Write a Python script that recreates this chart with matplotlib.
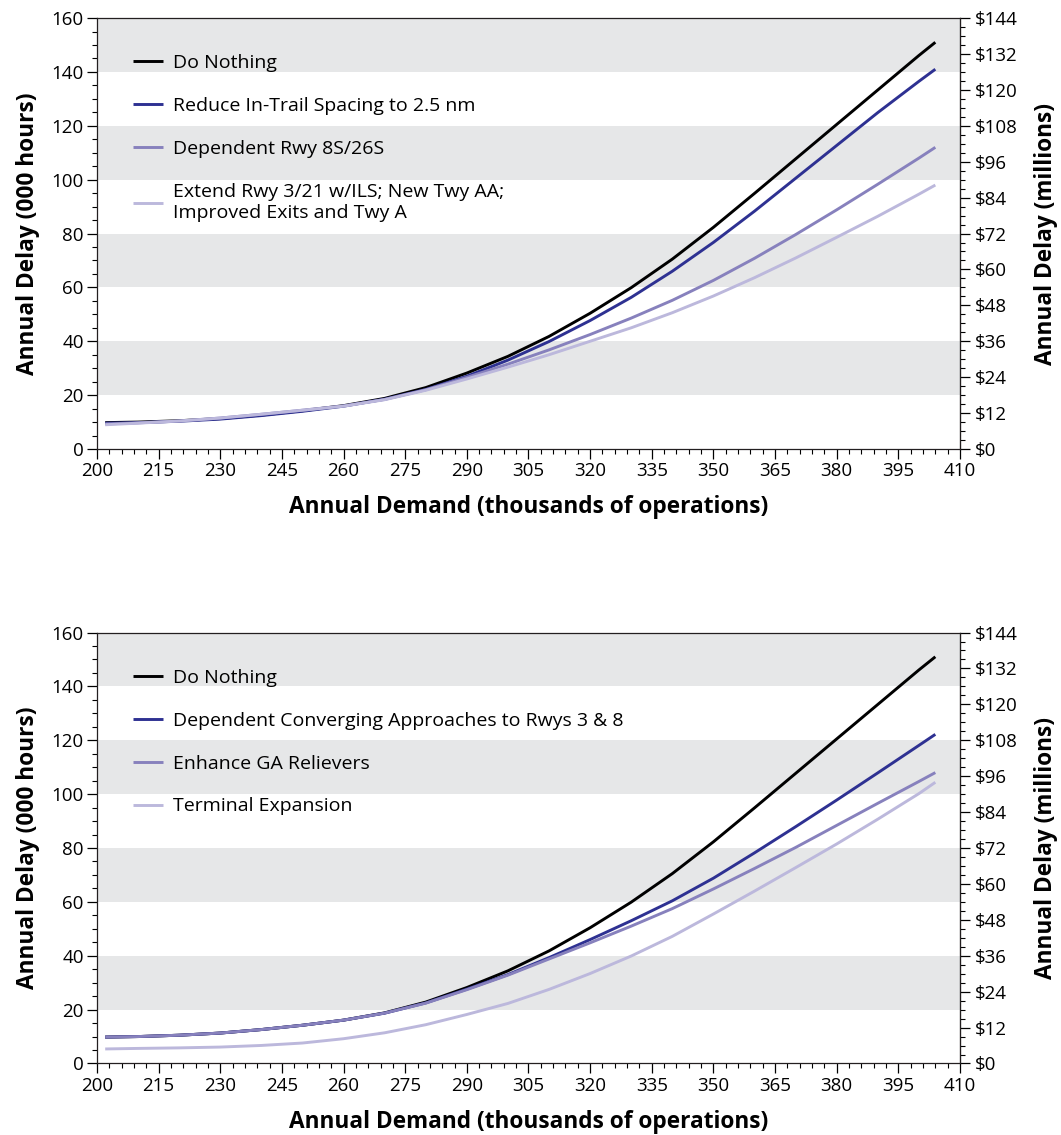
import matplotlib
matplotlib.use('Agg')
import matplotlib.pyplot as plt
from matplotlib.ticker import FixedLocator, FuncFormatter, MultipleLocator

plt.rcParams['font.family'] = ['Open Sans', 'DejaVu Sans']

# annual demand (thousands of operations) and annual delay (000 hours)
demand = [202, 210, 220, 230, 240, 250, 260, 270, 280, 290, 300,
          310, 320, 330, 340, 350, 360, 370, 380, 390, 400, 404]

do_nothing = [9.8, 10.0, 10.5, 11.3, 12.6, 14.2, 16.1, 18.8, 22.8, 28.2, 34.4,
              41.8, 50.4, 59.9, 70.5, 82.3, 94.9, 107.7, 120.5, 133.3, 146.1, 151.0]

# top panel
reduce_spacing = [9.6, 9.8, 10.3, 11.1, 12.4, 14.0, 15.9, 18.5, 22.1, 27.0, 33.0,
                  39.9, 47.7, 56.3, 66.0, 76.7, 88.3, 100.5, 112.7, 124.9, 136.5, 141.0]
dependent_rwy = [9.3, 9.7, 10.4, 11.5, 12.9, 14.4, 16.0, 18.4, 22.0, 26.6, 31.5,
                 36.8, 42.5, 48.6, 55.2, 62.6, 70.8, 79.6, 88.8, 98.3, 108.0, 112.0]
extend_rwy = [9.0, 9.6, 10.4, 11.5, 12.9, 14.4, 15.9, 18.3, 21.8, 26.0, 30.4,
              35.0, 40.0, 45.0, 50.6, 56.8, 63.6, 70.9, 78.6, 86.4, 94.6, 98.0]

# bottom panel
converging = [9.8, 10.0, 10.5, 11.3, 12.6, 14.2, 16.1, 18.7, 22.5, 27.6, 33.0,
              39.3, 46.0, 53.0, 60.4, 68.8, 78.2, 87.9, 97.8, 107.9, 118.1, 122.2]
enhance_ga = [9.8, 10.0, 10.5, 11.3, 12.6, 14.2, 16.1, 18.7, 22.4, 27.4, 32.8,
              38.8, 44.8, 51.0, 57.5, 64.8, 72.4, 80.2, 88.4, 96.6, 104.7, 108.0]
terminal = [5.4, 5.6, 5.8, 6.1, 6.7, 7.6, 9.2, 11.4, 14.4, 18.2, 22.3,
            27.5, 33.4, 39.9, 47.2, 55.5, 64.0, 72.7, 81.5, 90.7, 100.2, 104.4]

top_labels = ['Do Nothing', 'Reduce In-Trail Spacing to 2.5 nm', 'Dependent Rwy 8S/26S',
              'Extend Rwy 3/21 w/ILS; New Twy AA;\nImproved Exits and Twy A']
bottom_labels = ['Do Nothing', 'Dependent Converging Approaches to Rwys 3 & 8',
                 'Enhance GA Relievers', 'Terminal Expansion']

colors = ['#000000', '#2e3192', '#8781bd', '#bcb8dc']
dollars_per_hour = 0.9  # $ millions per 000 hours (160 -> $144)

x_major = list(range(200, 411, 15))
x_minor = list(range(200, 411, 3))


def to_dollars(h):
    return h * dollars_per_hour


def to_hours(d):
    return d / dollars_per_hour


def draw_panel(ax, series, labels):
    for lo in range(20, 160, 40):
        ax.axhspan(lo, lo + 20, color='#e6e7e8', lw=0, zorder=0)
    for vals, label, color in zip(series, labels, colors):
        ax.plot(demand, vals, color=color, lw=2.1, label=label,
                solid_capstyle='butt', solid_joinstyle='round')

    ax.set_xlim(200, 410)
    ax.set_ylim(0, 160)
    ax.xaxis.set_major_locator(FixedLocator(x_major))
    ax.xaxis.set_minor_locator(FixedLocator(x_minor))
    ax.yaxis.set_major_locator(MultipleLocator(20))
    ax.yaxis.set_minor_locator(MultipleLocator(5))
    ax.tick_params(which='major', direction='out', length=7, width=0.9, labelsize=13.5, pad=2.5)
    ax.tick_params(which='minor', direction='out', length=3.6, width=0.8)
    for sp in ax.spines.values():
        sp.set_color('#231f20')
        sp.set_linewidth(0.9)

    ax.set_xlabel('Annual Demand (thousands of operations)', fontsize=16.3, fontweight='bold', labelpad=11)
    ax.set_ylabel('Annual Delay (000 hours)', fontsize=16.3, fontweight='bold', labelpad=8)

    sec = ax.secondary_yaxis('right', functions=(to_dollars, to_hours))
    sec.set_yticks(range(0, 145, 12))
    sec.yaxis.set_major_formatter(FuncFormatter(lambda v, p: r'\$%d' % v))
    sec.yaxis.set_minor_locator(MultipleLocator(3))
    sec.tick_params(which='major', direction='out', length=7, width=0.9, labelsize=13.5, pad=3.5)
    sec.tick_params(which='minor', direction='out', length=3.6, width=0.8)
    sec.spines['right'].set_color('#231f20')
    sec.set_ylabel('Annual Delay (millions)', fontsize=16.3, fontweight='bold', labelpad=12)

    ax.legend(loc='upper left', bbox_to_anchor=(0.0417, 0.916), frameon=False, fontsize=14,
              handlelength=1.55, handletextpad=0.5, labelspacing=1.28, borderpad=0, borderaxespad=0)


fig = plt.figure(figsize=(10.61, 11.35), dpi=100)
ax1 = fig.add_axes([0.0914, 0.6044, 0.8134, 0.3797])
ax2 = fig.add_axes([0.0914, 0.0630, 0.8134, 0.3797])

draw_panel(ax1, [do_nothing, reduce_spacing, dependent_rwy, extend_rwy], top_labels)
draw_panel(ax2, [do_nothing, converging, enhance_ga, terminal], bottom_labels)

fig.savefig('out.png', dpi=100)
